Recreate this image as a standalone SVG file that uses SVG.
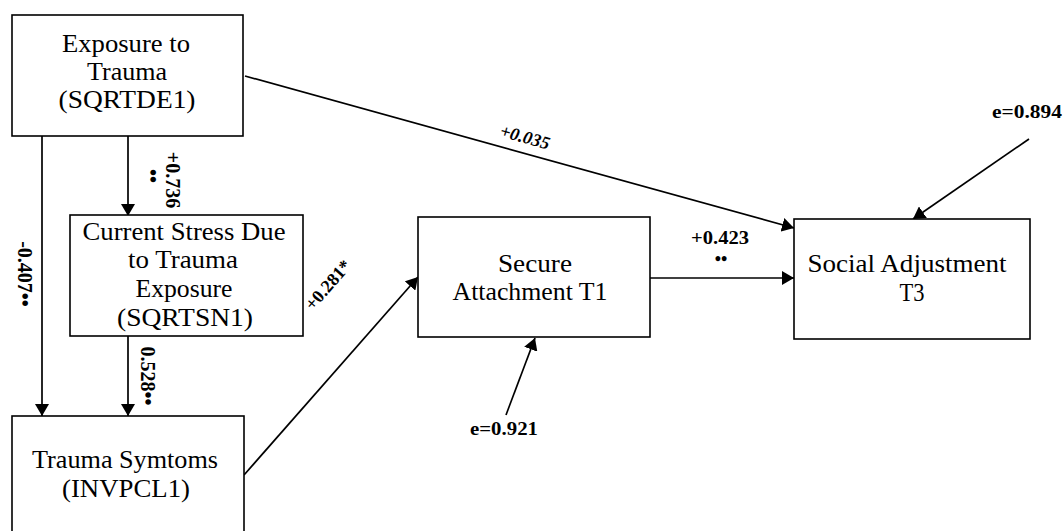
<svg xmlns="http://www.w3.org/2000/svg" width="1063" height="531" viewBox="0 0 1063 531">
<style>
.box{fill:#fff;stroke:#000;stroke-width:1.6}
.nt{font-family:"Liberation Serif","DejaVu Serif",serif;font-size:25px;fill:#000;text-anchor:middle}
.con{stroke:#000;stroke-width:1.7;fill:none;marker-end:url(#ah)}
.lb{font-family:"Liberation Serif","DejaVu Serif",serif;font-size:20px;font-weight:bold;fill:#000;text-anchor:middle}
.lh{font-family:"Liberation Serif","DejaVu Serif",serif;font-size:18px;font-weight:bold;fill:#000}
</style>
<defs>
<marker id="ah" viewBox="0 0 12 14" refX="12" refY="7" markerWidth="12" markerHeight="14" markerUnits="userSpaceOnUse" orient="auto">
<path d="M0,0 L12,7 L0,14 z" fill="#000"/>
</marker>
</defs>
<rect width="1063" height="531" fill="#fff"/>
<g id="connectors">
<line class="con" x1="128" y1="136" x2="128" y2="216"/>
<line class="con" x1="42" y1="136" x2="42" y2="416"/>
<line class="con" x1="128" y1="336" x2="128" y2="416"/>
<line class="con" x1="244" y1="475" x2="418" y2="277"/>
<line class="con" x1="650" y1="278" x2="794" y2="278"/>
<line class="con" x1="245" y1="76" x2="794" y2="228"/>
<line class="con" x1="1029" y1="139" x2="913" y2="219"/>
<line class="con" x1="506" y1="415" x2="535" y2="338"/>
</g>
<g id="labels">
<text class="lb" transform="translate(166,180) rotate(90)">+0.736</text>
<text class="lb" transform="translate(146,176) rotate(90)">••</text>
<text class="lb" transform="translate(18,274) rotate(90)">-0.407••</text>
<text class="lb" transform="translate(141,376) rotate(90)">0.528••</text>
<text class="lh" x="691" y="244" textLength="58" lengthAdjust="spacingAndGlyphs">+0.423</text>
<text class="lh" x="721" y="265" text-anchor="middle">••</text>
<text class="lh" x="992" y="118" textLength="70" lengthAdjust="spacingAndGlyphs">e=0.894</text>
<text class="lh" x="470" y="435" textLength="68" lengthAdjust="spacingAndGlyphs">e=0.921</text>
<text class="lh" transform="translate(525,137) rotate(15.5)" y="6" text-anchor="middle" font-style="italic">+0.035</text>
<text class="lh" transform="translate(328,285) rotate(-48.5)" y="6" text-anchor="middle">+0.281*</text>
</g>
<g id="exposure">
<rect class="box" x="12" y="15" width="231" height="121"/>
<text class="nt" x="126" y="52" textLength="128" lengthAdjust="spacingAndGlyphs">Exposure to</text>
<text class="nt" x="127" y="80" textLength="80" lengthAdjust="spacingAndGlyphs">Trauma</text>
<text class="nt" x="127" y="108" textLength="137" lengthAdjust="spacingAndGlyphs">(SQRTDE1)</text>
</g>
<g id="stress">
<rect class="box" x="70" y="215" width="233" height="121"/>
<text class="nt" x="184" y="240" textLength="203" lengthAdjust="spacingAndGlyphs">Current Stress Due</text>
<text class="nt" x="183" y="268" textLength="110" lengthAdjust="spacingAndGlyphs">to Trauma</text>
<text class="nt" x="184" y="297" textLength="97" lengthAdjust="spacingAndGlyphs">Exposure</text>
<text class="nt" x="185" y="326" textLength="136" lengthAdjust="spacingAndGlyphs">(SQRTSN1)</text>
</g>
<g id="symptoms">
<rect class="box" x="12" y="416" width="232" height="130"/>
<text class="nt" x="125" y="468" textLength="186" lengthAdjust="spacingAndGlyphs">Trauma Symtoms</text>
<text class="nt" x="126" y="497" textLength="128" lengthAdjust="spacingAndGlyphs">(INVPCL1)</text>
</g>
<g id="secure">
<rect class="box" x="418" y="217" width="232" height="120"/>
<text class="nt" x="535" y="272" textLength="74" lengthAdjust="spacingAndGlyphs">Secure</text>
<text class="nt" x="530" y="300" textLength="155" lengthAdjust="spacingAndGlyphs">Attachment T1</text>
</g>
<g id="social">
<rect class="box" x="794" y="219" width="236" height="120"/>
<text class="nt" x="907" y="272" textLength="199" lengthAdjust="spacingAndGlyphs">Social Adjustment</text>
<text class="nt" x="912" y="301" textLength="25" lengthAdjust="spacingAndGlyphs">T3</text>
</g>
</svg>
